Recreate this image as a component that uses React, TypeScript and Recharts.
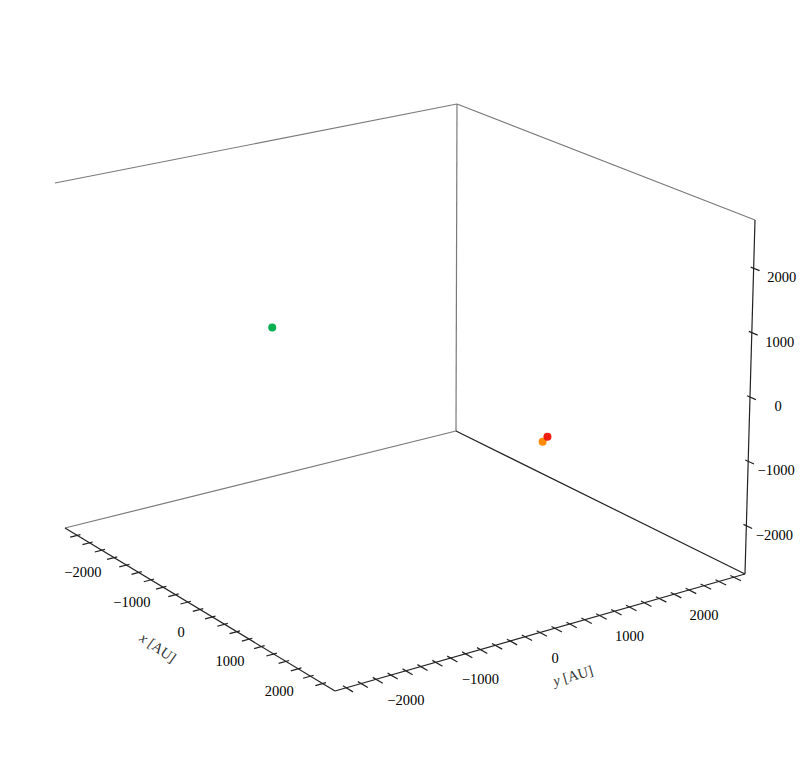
import { ScatterChart, Scatter, XAxis, YAxis, ReferenceLine } from "recharts";

// axis limits in AU (same on x, y and z)
const LIM_MIN = -2750;
const LIM_MAX = 2750;

// small ticks along the x and y axes, major ticks on z
const xTicks = [-2500, -2250, -2000, -1750, -1500, -1250, -1000, -750, -500, -250, 0, 250, 500, 750, 1000, 1250, 1500, 1750, 2000, 2250, 2500];
const yTicks = [-2600, -2400, -2200, -2000, -1800, -1600, -1400, -1200, -1000, -800, -600, -400, -200, 0, 200, 400, 600, 800, 1000, 1200, 1400, 1600, 1800, 2000, 2200, 2400, 2600];
const zTicks = [-2000, -1000, 0, 1000, 2000];
const tickLabels = [-2000, -1000, 0, 1000, 2000];

// bodies (positions in AU)
const bodyNames = ["Body 3", "Body 2", "Body 1"];
const bodyX = [-2200, 1050, 1000];
const bodyY = [-200, 1190, 1290];
const bodyZ = [20, -880, -850];
const bodyColors = ["#00b050", "#ff8c00", "#f01c0c"];

// screen position of the 8 box corners, key = (x,y,z) low/high
const CORNERS: Record<string, [number, number]> = {
  "000": [65, 528],
  "100": [335, 691],
  "110": [745, 574],
  "010": [456, 431],
  "001": [55, 183],
  "101": [337, 317],
  "111": [755, 220],
  "011": [457, 104],
};

const W = 800;
const H = 780;
const PANE = "#7a7a7a";
const AXIS = "#222";
const FONT = "'Liberation Serif', 'DejaVu Serif', serif";

const norm = (v: number) => (v - LIM_MIN) / (LIM_MAX - LIM_MIN);

function project(x: number, y: number, z: number) {
  const u = norm(x);
  const v = norm(y);
  const w = norm(z);
  let px = 0;
  let py = 0;
  for (const key of Object.keys(CORNERS)) {
    const f =
      (key[0] === "1" ? u : 1 - u) *
      (key[1] === "1" ? v : 1 - v) *
      (key[2] === "1" ? w : 1 - w);
    px += f * CORNERS[key][0];
    py += f * CORNERS[key][1];
  }
  return { px, py };
}

const span = LIM_MAX - LIM_MIN;

type Seg = { a: { px: number; py: number }; b: { px: number; py: number }; color: string };

const edges: Seg[] = [
  { a: project(LIM_MIN, LIM_MIN, LIM_MAX), b: project(LIM_MIN, LIM_MAX, LIM_MAX), color: PANE },
  { a: project(LIM_MIN, LIM_MAX, LIM_MAX), b: project(LIM_MAX, LIM_MAX, LIM_MAX), color: PANE },
  { a: project(LIM_MIN, LIM_MAX, LIM_MIN), b: project(LIM_MIN, LIM_MAX, LIM_MAX), color: PANE },
  { a: project(LIM_MIN, LIM_MIN, LIM_MIN), b: project(LIM_MIN, LIM_MAX, LIM_MIN), color: PANE },
  { a: project(LIM_MIN, LIM_MAX, LIM_MIN), b: project(LIM_MAX, LIM_MAX, LIM_MIN), color: AXIS },
  { a: project(LIM_MIN, LIM_MIN, LIM_MIN), b: project(LIM_MAX, LIM_MIN, LIM_MIN), color: AXIS },
  { a: project(LIM_MAX, LIM_MIN, LIM_MIN), b: project(LIM_MAX, LIM_MAX, LIM_MIN), color: AXIS },
  { a: project(LIM_MAX, LIM_MAX, LIM_MIN), b: project(LIM_MAX, LIM_MAX, LIM_MAX), color: AXIS },
];

// tick marks cross the axis line, mostly on the outside
const tickSegs: Seg[] = [
  ...xTicks.map((t) => ({
    a: project(t, LIM_MIN + 0.008 * span, LIM_MIN),
    b: project(t, LIM_MIN - 0.018 * span, LIM_MIN),
    color: AXIS,
  })),
  ...yTicks.map((t) => ({
    a: project(LIM_MAX - 0.012 * span, t, LIM_MIN),
    b: project(LIM_MAX + 0.025 * span, t, LIM_MIN),
    color: AXIS,
  })),
  ...zTicks.map((t) => ({
    a: project(LIM_MAX - 0.01 * span, LIM_MAX, t),
    b: project(LIM_MAX + 0.02 * span, LIM_MAX, t),
    color: AXIS,
  })),
];

const fmt = (v: number) => (v < 0 ? `\u2212${Math.abs(v)}` : `${v}`);

const labelData = [
  ...tickLabels.map((t) => {
    const p = project(t, LIM_MIN, LIM_MIN);
    return { px: p.px - 19, py: p.py + 22, text: fmt(t), angle: 0 };
  }),
  ...tickLabels.map((t) => {
    const p = project(LIM_MAX, t, LIM_MIN);
    return { px: p.px + 15, py: p.py + 25, text: fmt(t), angle: 0 };
  }),
  ...tickLabels.map((t) => {
    const p = project(LIM_MAX, LIM_MAX, t);
    return { px: p.px + 28, py: p.py + 9, text: fmt(t), angle: 0 };
  }),
];

const titleData = [
  (() => {
    const p = project(0, LIM_MIN, LIM_MIN);
    return { px: p.px - 42, py: p.py + 38, axis: "x", angle: 35 };
  })(),
  (() => {
    const p = project(LIM_MAX, 0, LIM_MIN);
    return { px: p.px + 33, py: p.py + 43, axis: "y", angle: -16 };
  })(),
];

const bodies = bodyNames.map((name, i) => ({
  name,
  color: bodyColors[i],
  ...project(bodyX[i], bodyY[i], bodyZ[i]),
}));

const TickText = (props: any) => {
  const { cx, cy, payload } = props;
  return (
    <text x={cx} y={cy} dy="0.35em" textAnchor="middle" fontFamily={FONT} fontSize={14.5} fill="#000">
      {payload.text}
    </text>
  );
};

const TitleText = (props: any) => {
  const { cx, cy, payload } = props;
  return (
    <text
      x={cx}
      y={cy}
      dy="0.35em"
      textAnchor="middle"
      fontFamily={FONT}
      fontSize={14.5}
      fill="#333"
      transform={`rotate(${payload.angle} ${cx} ${cy})`}
    >
      <tspan fontStyle="italic">{payload.axis}</tspan> [AU]
    </text>
  );
};

const Dot = (props: any) => {
  const { cx, cy, payload } = props;
  return <circle cx={cx} cy={cy} r={4} fill={payload.color} />;
};

export default function App() {
  return (
    <div style={{ position: "absolute", left: 0, top: 0, width: W, height: H, background: "#fff" }}>
      <ScatterChart width={W} height={H} margin={{ top: 0, right: 0, bottom: 0, left: 0 }}>
        <XAxis type="number" dataKey="px" domain={[0, W]} hide allowDataOverflow />
        <YAxis type="number" dataKey="py" domain={[0, H]} reversed hide allowDataOverflow />
        {[...edges, ...tickSegs].map((s, i) => (
          <ReferenceLine
            key={i}
            segment={[
              { x: s.a.px, y: s.a.py },
              { x: s.b.px, y: s.b.py },
            ]}
            stroke={s.color}
            strokeWidth={1.2}
            ifOverflow="visible"
          />
        ))}
        <Scatter data={labelData} shape={TickText} isAnimationActive={false} />
        <Scatter data={titleData} shape={TitleText} isAnimationActive={false} />
        {bodies.map((b) => (
          <Scatter key={b.name} name={b.name} data={[b]} shape={Dot} isAnimationActive={false} />
        ))}
      </ScatterChart>
    </div>
  );
}
